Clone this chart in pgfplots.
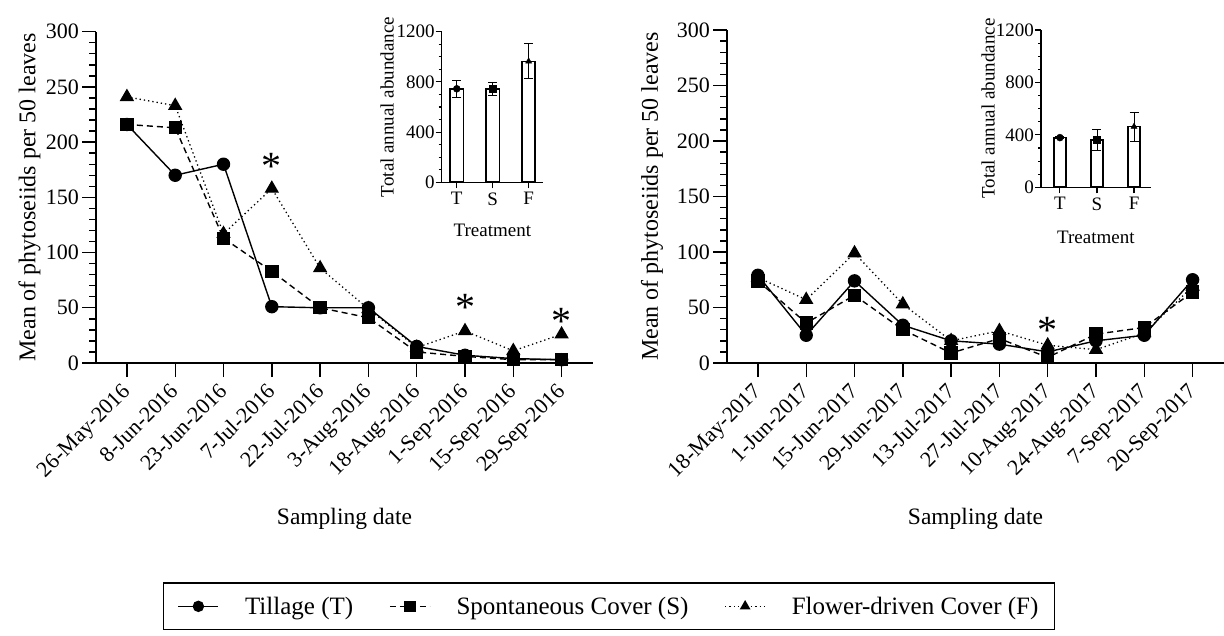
\documentclass[border=0pt]{standalone}
\usepackage{fontspec}
\setmainfont{Liberation Serif}
\usepackage{pgfplots}
\pgfplotsset{compat=1.18}
\tikzset{star/.style={font=\fontsize{40}{40}\selectfont, anchor=center, inner sep=0pt}}

\pgfplotsset{
  mainax/.style={
    scale only axis, width=497pt, anchor=south west,
    xmin=-0.64, xmax=9.65, ymin=0, ymax=300,
    axis x line*=bottom, axis y line*=left, axis line style={line width=1.6pt, -},
    tick align=outside, major tick length=14pt, minor tick length=7pt,
    tick style={black, line width=1.4pt},
    ytick={0,50,...,300}, minor y tick num=4,
    xtick={0,...,9},
    /pgf/number format/assume math mode=true,
    yticklabel style={font=\fontsize{22}{24}\selectfont, inner sep=0pt, xshift=-3pt},
    xticklabel style={font=\fontsize{22}{24}\selectfont, inner sep=0pt, xshift=-6pt, yshift=-5pt, rotate=45, anchor=north east},
    ylabel style={font=\fontsize{24}{26}\selectfont},
    xlabel style={font=\fontsize{23.5}{26}\selectfont},
    ylabel={Mean of phytoseiids per 50 leaves},
    xlabel={Sampling date},
    clip=false,
  },
  inset/.style={
    scale only axis, anchor=south west,
    ymin=0, ymax=1200,
    axis x line*=bottom, axis y line*=left, axis line style={line width=1.3pt, -},
    tick align=outside, major tick length=6pt, minor tick length=3pt,
    tick style={black, line width=1.1pt},
    ytick={0,400,800,1200}, minor y tick num=3,
    xtick={0,1,2}, xticklabels={T,S,F},
    /pgf/number format/assume math mode=true,
    /pgf/number format/1000 sep={},
    tick label style={font=\fontsize{19}{21}\selectfont, inner sep=0pt},
    yticklabel style={xshift=-1pt},
    xticklabel style={yshift=-4pt},
    label style={font=\fontsize{19}{21}\selectfont},
    ylabel={Total annual abundance},
    xlabel={Treatment},
    clip=false,
  },
  Tl/.style={black, line width=1.4pt, mark=*, mark size=6pt, mark options={solid}},
  Sl/.style={black, line width=1.4pt, dash pattern=on 6pt off 4pt, mark=square*, mark size=6pt, mark options={solid}},
  Fl/.style={black, line width=1.3pt, dash pattern=on 1.3pt off 3pt, mark=triangle*, mark size=7pt, mark options={solid}},
}

\begin{document}
\begin{tikzpicture}
\useasboundingbox (0,0) rectangle (1224pt,635pt);

% ---------- left main axis (2016)
\begin{axis}[mainax, at={(96pt,272pt)}, height=331.3pt,
  xticklabels={26-May-2016,8-Jun-2016,23-Jun-2016,7-Jul-2016,22-Jul-2016,3-Aug-2016,18-Aug-2016,1-Sep-2016,15-Sep-2016,29-Sep-2016},
  ylabel style={at={(axis description cs:-0.134,0.5)}, anchor=center},
  xlabel style={at={(axis description cs:0.5,-0.471)}, anchor=center},
  legend columns=3,
  legend style={at={(0.135,-0.662)}, anchor=north west, draw=black, line width=1.2pt,
    font=\fontsize{25}{28}\selectfont, inner xsep=14pt, inner ysep=12pt,
    /tikz/every odd column/.append style={column sep=24pt},
    /tikz/every even column/.append style={column sep=34pt}},
  legend image code/.code={\draw[#1, mark size=5pt, mark repeat=2, mark phase=2] plot coordinates {(0pt,0pt) (20pt,0pt) (40pt,0pt)};},
  ]
\addplot[Tl] coordinates {(0,216)(1,170)(2,180)(3,51)(4,50)(5,50)(6,15)(7,7)(8,4)(9,3)};
\addplot[Sl] coordinates {(0,216)(1,213)(2,113)(3,83)(4,50)(5,41)(6,10)(7,6)(8,3)(9,3)};
\addplot[Fl] coordinates {(0,241)(1,233)(2,117)(3,158)(4,86)(5,49)(6,14)(7,29)(8,11)(9,26)};
\legend{Tillage (T),Spontaneous Cover (S),Flower-driven Cover (F)}
\node[star] at (axis cs:3,178) {*};
\node[star] at (axis cs:7,50) {*};
\node[star] at (axis cs:9,38) {*};
\end{axis}

% ---------- right main axis (2017)
\begin{axis}[mainax, at={(727pt,272pt)}, height=333pt,
  xticklabels={18-May-2017,1-Jun-2017,15-Jun-2017,29-Jun-2017,13-Jul-2017,27-Jul-2017,10-Aug-2017,24-Aug-2017,7-Sep-2017,20-Sep-2017},
  ylabel style={at={(axis description cs:-0.151,0.5)}, anchor=center},
  xlabel style={at={(axis description cs:0.5,-0.468)}, anchor=center},
  ]
\addplot[Tl] coordinates {(0,79)(1,25)(2,74)(3,34)(4,20)(5,17)(6,10)(7,20)(8,25)(9,75)};
\addplot[Sl] coordinates {(0,74)(1,36)(2,61)(3,30)(4,9)(5,22)(6,5)(7,26)(8,32)(9,64)};
\addplot[Fl] coordinates {(0,77)(1,57)(2,99)(3,53)(4,20)(5,29)(6,16)(7,12)(8,27)(9,69)};
\node[star] at (axis cs:6,29) {*};
\end{axis}

% ---------- left inset
\begin{axis}[inset, at={(441.7pt,452.7pt)}, width=101.3pt, height=150.6pt,
  xmin=-0.42, xmax=2.4,
  ylabel style={at={(axis description cs:-0.54,0.5)}, anchor=center},
  xlabel style={at={(axis description cs:0.5,-0.317)}, anchor=center},
  ]
\addplot[ybar, bar width=13.3pt, fill=white, draw=black, line width=1.6pt] coordinates {(0,745)(1,743)(2,964)};
\addplot[only marks, mark=*, mark size=3.5pt, black, error bars/.cd, y dir=both, y explicit,
  error bar style={line width=0.9pt, black}, error mark options={rotate=90, mark size=4.5pt, line width=0.9pt, black}]
  coordinates {(0,745) +- (0,65)};
\addplot[only marks, mark=square*, mark size=3.5pt, black, error bars/.cd, y dir=both, y explicit,
  error bar style={line width=0.9pt, black}, error mark options={rotate=90, mark size=4.5pt, line width=0.9pt, black}]
  coordinates {(1,743) +- (0,50)};
\addplot[only marks, mark=triangle*, mark size=3.5pt, black, error bars/.cd, y dir=both, y explicit,
  error bar style={line width=0.9pt, black}, error mark options={rotate=90, mark size=4.5pt, line width=0.9pt, black}]
  coordinates {(2,964) +- (0,140)};
\end{axis}

% ---------- right inset
\begin{axis}[inset, at={(1041pt,447.7pt)}, width=109.7pt, height=157.3pt,
  xmin=-0.51, xmax=2.45,
  ylabel style={at={(axis description cs:-0.483,0.5)}, anchor=center},
  xlabel style={at={(axis description cs:0.5,-0.316)}, anchor=center},
  ]
\addplot[ybar, bar width=12.3pt, fill=white, draw=black, line width=1.6pt] coordinates {(0,379)(1,361)(2,463)};
\addplot[only marks, mark=*, mark size=3.5pt, black, error bars/.cd, y dir=both, y explicit,
  error bar style={line width=0.9pt, black}, error mark options={rotate=90, mark size=4.5pt, line width=0.9pt, black}]
  coordinates {(0,379) +- (0,10)};
\addplot[only marks, mark=square*, mark size=3.5pt, black, error bars/.cd, y dir=both, y explicit,
  error bar style={line width=0.9pt, black}, error mark options={rotate=90, mark size=4.5pt, line width=0.9pt, black}]
  coordinates {(1,361) +- (0,83)};
\addplot[only marks, mark=triangle*, mark size=3.5pt, black, error bars/.cd, y dir=both, y explicit,
  error bar style={line width=0.9pt, black}, error mark options={rotate=90, mark size=4.5pt, line width=0.9pt, black}]
  coordinates {(2,463) +- (0,110)};
\end{axis}
\end{tikzpicture}
\end{document}
